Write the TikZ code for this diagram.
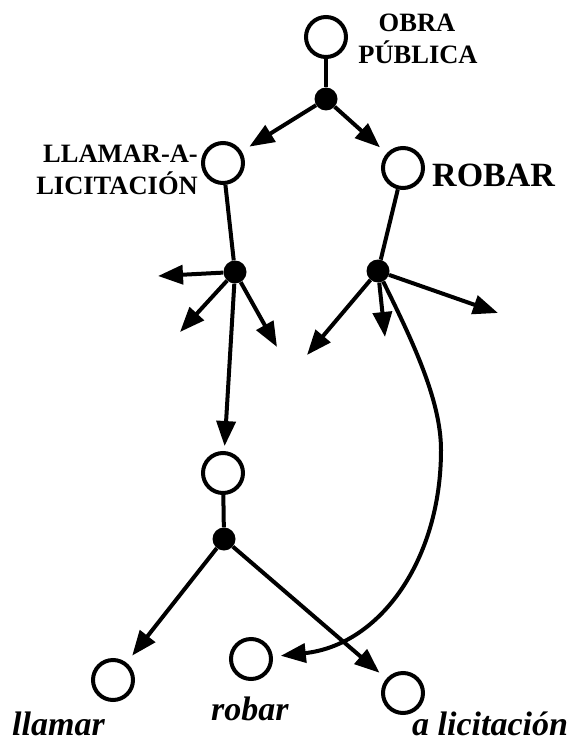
\documentclass[tikz,border=0pt]{standalone}
\usepackage{fontspec}
\setmainfont{Liberation Serif}
\usetikzlibrary{arrows.meta}
\begin{document}
\begin{tikzpicture}[x=1pt,y=-1pt,
  lw/.style={line width=4pt},
  state/.style={circle,draw,line width=4pt,minimum size=40pt,inner sep=0pt},
  junction/.style={circle,fill,minimum size=23pt,inner sep=0pt},
  arr/.style={line width=4pt,-{Triangle[length=25pt,width=19pt]}},
  tonode/.style={arr,shorten >=9pt},
  lab/.style={font=\bfseries\fontsize{26.5}{30}\selectfont,inner sep=0pt},
  biglab/.style={font=\bfseries\fontsize{34}{40}\selectfont,inner sep=0pt},
  itlab/.style={font=\bfseries\itshape\fontsize{34}{40}\selectfont,inner sep=0pt}]
\useasboundingbox (0,0) rectangle (575,743);

% states
\node[state] (obra) at (326,37) {};
\node[state] (llam) at (223,163) {};
\node[state] (rob) at (403,168) {};
\node[state] (mid) at (223,473) {};
\node[state] (bl) at (113,680) {};
\node[state] (br) at (251,659) {};
\node[state] (ba) at (403,693) {};

% junctions
\node[junction] (d1) at (326,99) {};
\node[junction] (d2) at (235,272) {};
\node[junction] (d3) at (378,271) {};
\node[junction] (d4) at (224,539) {};

% free ends
\coordinate (s1) at (158,276);
\coordinate (s2) at (180,332);
\coordinate (s3) at (277,347);
\coordinate (t1) at (307,355);
\coordinate (t2) at (385,337);
\coordinate (t3) at (498,313);
\coordinate (cm) at (441,450);

% labels
\node[lab,anchor=base] (obra1) at (417,32) {OBRA};
\node[lab,anchor=base] (obra2) at (418,64) {PÚBLICA};
\node[lab,anchor=base east] (ll1) at (198,163) {LLAMAR-A-};
\node[lab,anchor=base east] (ll2) at (198,195) {LICITACIÓN};
\node[biglab,anchor=base west] (robl) at (432,187) {ROBAR};
\node[itlab,anchor=base west] (lbl) at (12,735) {llamar};
\node[itlab,anchor=base west] (lbr) at (211,720) {robar};
\node[itlab,anchor=base west] (lba) at (412,735) {a licitación};

% connectors
\draw[lw] (obra) -- (d1);
\draw[tonode] (d1) -- (llam);
\draw[tonode] (d1) -- (rob);
\draw[lw] (llam) -- (d2);
\draw[lw] (rob) -- (d3);
\draw[arr] (d2) -- (s1);
\draw[arr] (d2) -- (s2);
\draw[arr] (d2) -- (s3);
\draw[arr,shorten >=5pt] (d2) -- (mid);
\draw[arr] (d3) -- (t1);
\draw[arr] (d3) -- (t2);
\draw[arr] (d3) -- (t3);
\draw[lw] (mid) -- (d4);
\draw[tonode] (d4) -- (bl);
\draw[tonode] (d4) -- (ba);
\draw[tonode,shorten >=8pt] (d3) .. controls (412,340) and (441,400) .. (cm)
  .. controls (441,560) and (380,645) .. (br);
\end{tikzpicture}
\end{document}
